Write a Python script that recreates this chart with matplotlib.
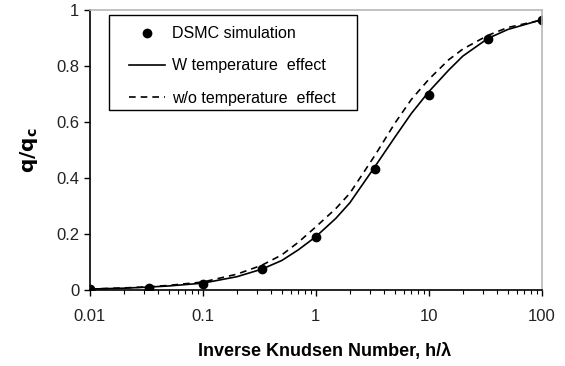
import matplotlib
matplotlib.use("Agg")
import matplotlib.pyplot as plt
from matplotlib.patches import Rectangle
from matplotlib.ticker import LogLocator, NullFormatter

plt.rcParams['font.family'] = ['Liberation Sans', 'DejaVu Sans']

# DSMC simulation points
dsmc_x = [0.01, 0.0333, 0.1, 0.333, 1, 3.33, 10, 33.3, 100]
dsmc_q = [0.002, 0.007, 0.022, 0.074, 0.19, 0.43, 0.696, 0.897, 0.965]

# model curves
curve_x = [0.01, 0.02, 0.0333, 0.05, 0.1, 0.2, 0.333, 0.5, 0.7, 1, 1.5, 2,
           3.33, 5, 7, 10, 15, 20, 33.3, 50, 100]
q_with_temp = [0.003, 0.006, 0.010, 0.014, 0.024, 0.047, 0.074, 0.105, 0.143,
               0.19, 0.255, 0.311, 0.44, 0.545, 0.63, 0.708, 0.785, 0.835,
               0.898, 0.93, 0.965]
q_without_temp = [0.003, 0.007, 0.011, 0.016, 0.028, 0.056, 0.088, 0.125, 0.17,
                  0.225, 0.29, 0.345, 0.48, 0.595, 0.68, 0.752, 0.822, 0.86,
                  0.909, 0.937, 0.964]

fig = plt.figure(figsize=(5.65, 3.66), dpi=100)
ax = fig.add_axes([0.159, 0.208, 0.80, 0.765])

ax.plot(dsmc_x, dsmc_q, 'o', color='black', markersize=6, label='DSMC simulation')
ax.plot(curve_x, q_with_temp, '-', color='black', lw=1.2, label='W temperature  effect')
ax.plot(curve_x, q_without_temp, '--', color='black', lw=1.2, dashes=(4, 3),
        label='w/o temperature  effect')

ax.set_xscale('log')
ax.set_xlim(0.01, 100)
ax.set_ylim(0, 1)
ax.set_xticks([0.01, 0.1, 1, 10, 100])
ax.set_xticklabels(['0.01', '0.1', '1', '10', '100'])
ax.xaxis.set_minor_locator(LogLocator(base=10, subs=range(2, 10)))
ax.xaxis.set_minor_formatter(NullFormatter())
ax.set_yticks([0, 0.2, 0.4, 0.6, 0.8, 1])
ax.set_yticklabels(['0', '0.2', '0.4', '0.6', '0.8', '1'])

ax.tick_params(axis='both', which='major', direction='out', length=4, width=1,
               labelsize=12, colors='black', labelcolor='#222222',
               top=False, right=False)
ax.tick_params(axis='x', which='minor', direction='out', length=3, width=0.8,
               top=False)
ax.tick_params(axis='x', which='major', pad=10)

for side in ['left', 'bottom']:
    ax.spines[side].set_color('black')
    ax.spines[side].set_linewidth(1.2)
for side in ['top', 'right']:
    ax.spines[side].set_color('#b8b8b8')
    ax.spines[side].set_linewidth(1.2)

ax.set_xlabel('Inverse Knudsen Number, h/\u03bb', fontsize=13, fontweight='bold')
ax.xaxis.set_label_coords(0.52, -0.19)
ax.set_ylabel(r'$\mathbf{q/q_c}$', fontsize=14.5, labelpad=12)

# legend box frame drawn separately so the inner padding matches
frame = Rectangle((0.042, 0.643), 0.549, 0.339, transform=ax.transAxes,
                  facecolor='white', edgecolor='black', lw=1.0, zorder=4)
ax.add_patch(frame)
leg = ax.legend(loc='upper left', bbox_to_anchor=(0.086, 0.941), borderaxespad=0,
                fontsize=11.5, frameon=False, labelspacing=1.07,
                handlelength=2.3, handletextpad=0.4, borderpad=0.0)
leg.set_zorder(5)

fig.savefig('out.png', dpi=100)
